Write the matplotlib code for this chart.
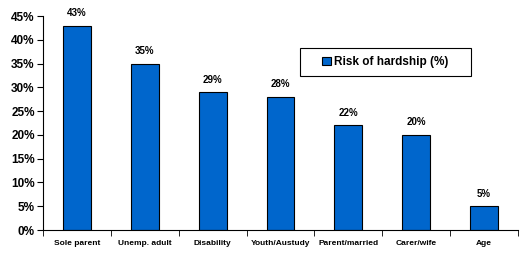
import numpy as np
import matplotlib
matplotlib.use("Agg")
import matplotlib.pyplot as plt
from matplotlib.patches import Rectangle
from matplotlib.ticker import FixedLocator, PercentFormatter

categories = ["Sole parent", "Unemp. adult", "Disability", "Youth/Austudy",
              "Parent/married", "Carer/wife", "Age"]
risk = [43, 35, 29, 28, 22, 20, 5]

plt.rcParams["font.family"] = ["Liberation Sans", "DejaVu Sans"]
plt.rcParams["font.weight"] = "bold"

fig = plt.figure(figsize=(5.29, 2.58), dpi=100)
ax = fig.add_axes([0.0813, 0.1085, 0.898, 0.829])
x = np.arange(len(categories))
bars = ax.bar(x, risk, width=0.41, color="#0066CC", edgecolor="black", lw=0.8,
              label="Risk of hardship (%)")
for xi, v in zip(x, risk):
    ax.text(xi, v + 1.6, f"{v}%", ha="center", va="bottom", fontsize=7, fontweight="bold")

ax.set_xlim(-0.5, len(categories) - 0.5)
ax.set_ylim(0, 45)
ax.set_yticks(np.arange(0, 46, 5))
ax.yaxis.set_major_formatter(PercentFormatter(decimals=0))
ax.set_xticks(x)
ax.set_xticklabels(categories, fontsize=6, fontweight="bold")
ax.xaxis.set_minor_locator(FixedLocator(np.arange(-0.5, len(categories), 1)))
ax.tick_params(axis="x", which="major", length=0, pad=7)
ax.tick_params(axis="x", which="minor", length=4, direction="out")
ax.tick_params(axis="y", labelsize=8.5, length=4, direction="out", pad=2)
for lab in ax.get_yticklabels():
    lab.set_fontweight("bold")
ax.spines["top"].set_visible(False)
ax.spines["right"].set_visible(False)

# legend: box drawn by hand so it can be wider than its content
ax.add_patch(Rectangle((0.541, 0.72), 0.36, 0.13, transform=ax.transAxes,
                       fill=False, ec="black", lw=0.8, zorder=5))
leg = ax.legend(loc="center", bbox_to_anchor=(0.721, 0.785), frameon=False,
                fontsize=8.5, handlelength=0.7, handleheight=0.7,
                borderpad=0, handletextpad=0.3)
for t in leg.get_texts():
    t.set_fontweight("bold")

fig.savefig("out.png", dpi=100)
